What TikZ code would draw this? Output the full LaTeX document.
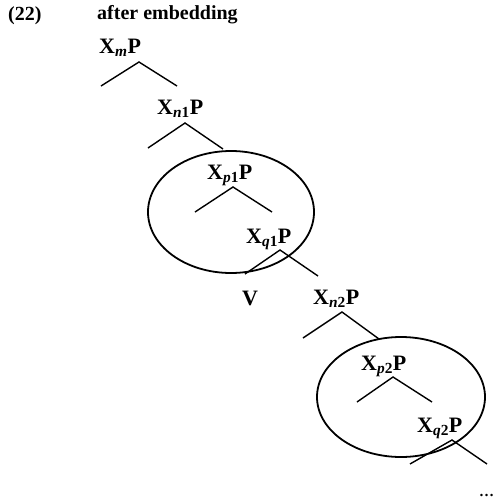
\documentclass[tikz,border=0pt]{standalone}
\usepackage{fontspec}
\setmainfont{Liberation Serif}

\tikzset{
  lbl/.style={anchor=base west,inner sep=0pt,font=\fontsize{22}{26}\selectfont\bfseries},
  head/.style={lbl,font=\fontsize{20}{24}\selectfont\bfseries},
  leg/.style={line width=1.4pt},
  ring/.style={line width=1.8pt}
}
\newcommand{\cat}[1]{X\textsubscript{#1}P}

\begin{document}
\begin{tikzpicture}[x=1pt,y=-1pt]
\useasboundingbox (0,0) rectangle (497,501);
\node[head] (num) at (8,20) {(22)};
\node[head] (title) at (97,19) {after embedding};
% upper spine
\node[lbl] (xm) at (99,53) {\cat{\textit{m}}};
\coordinate (xm-top) at (139,62);
\coordinate (xm-l) at (101,86);
\coordinate (xm-r) at (177,86);
\draw[leg] (xm-l) -- (xm-top) -- (xm-r);
\node[lbl] (xn1) at (157,114) {\cat{\textit{n}1}};
\coordinate (xn1-top) at (185,123);
\coordinate (xn1-l) at (148,148);
\coordinate (xn1-r) at (223,149);
\draw[leg] (xn1-l) -- (xn1-top) -- (xn1-r);
% first circled domain
\node[lbl] (xp1) at (207,179) {\cat{\textit{p}1}};
\coordinate (xp1-top) at (233,187);
\coordinate (xp1-l) at (195,212);
\coordinate (xp1-r) at (272,212);
\draw[leg] (xp1-l) -- (xp1-top) -- (xp1-r);
\node[lbl] (xq1) at (246,243) {\cat{\textit{q}1}};
\coordinate (xq1-top) at (280,250);
\coordinate (xq1-l) at (245,274);
\coordinate (xq1-r) at (318,276);
\draw[leg] (xq1-l) -- (xq1-top) -- (xq1-r);
\node[lbl] (v) at (242,305) {V};
\draw[ring] (231,212) ellipse (83 and 61);
% lower spine
\node[lbl] (xn2) at (313,304) {\cat{\textit{n}2}};
\coordinate (xn2-top) at (342,312);
\coordinate (xn2-l) at (303,338);
\coordinate (xn2-r) at (379,339);
\draw[leg] (xn2-l) -- (xn2-top) -- (xn2-r);
% second circled domain
\node[lbl] (xp2) at (361,370) {\cat{\textit{p}2}};
\coordinate (xp2-top) at (393,377);
\coordinate (xp2-l) at (357,402);
\coordinate (xp2-r) at (432,402);
\draw[leg] (xp2-l) -- (xp2-top) -- (xp2-r);
\node[lbl] (xq2) at (417,432) {\cat{\textit{q}2}};
\coordinate (xq2-top) at (452,440);
\coordinate (xq2-l) at (410,464);
\coordinate (xq2-r) at (487,464);
\draw[leg] (xq2-l) -- (xq2-top) -- (xq2-r);
\draw[ring] (401,397) ellipse (84 and 60);
\node[lbl,font=\fontsize{15}{17}\selectfont\bfseries] (dots) at (479,496) {\dots};
\end{tikzpicture}
\end{document}
